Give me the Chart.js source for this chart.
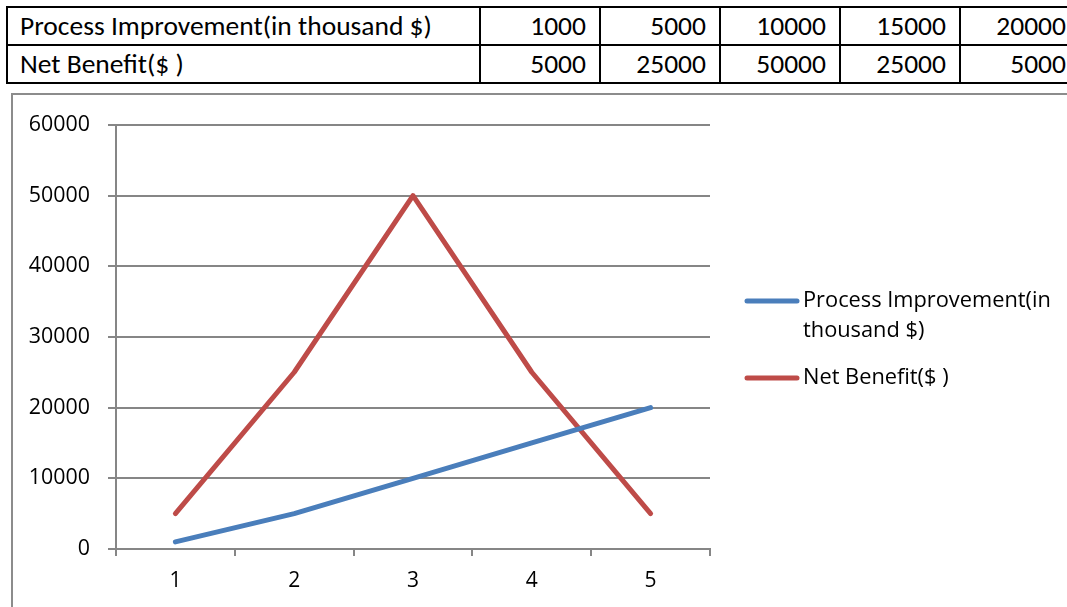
<!DOCTYPE html>
<html>
<head>
<meta charset="utf-8">
<script src="https://cdn.jsdelivr.net/npm/chart.js@4/dist/chart.umd.min.js"></script>
<style>
  html, body { margin: 0; padding: 0; width: 1067px; height: 607px; overflow: hidden; background: #fff; }
  #tbl { position: absolute; left: 6px; top: 6px; width: 1073px; border-collapse: collapse; table-layout: fixed;
         font-family: Carlito, "Liberation Sans Narrow", "Open Sans", sans-serif; font-size: 27.5px; color: #000; }
  #tbl td { border: 2px solid #000; height: 36px; padding: 0 13px 0 12px; text-align: right; white-space: nowrap; line-height: 36px; overflow: hidden; }
  #tbl td.h { text-align: left; }
  #box { position: absolute; left: 11px; top: 93px; width: 1100px; height: 600px; border: 2px solid #8c8c8c; border-right: none; border-bottom: none; }
  #wrap { position: absolute; left: 12px; top: 94px; width: 1055px; height: 513px; }
</style>
</head>
<body>
<table id="tbl"><colgroup><col style="width:473px"><col style="width:120px"><col style="width:120px"><col style="width:120px"><col style="width:120px"><col style="width:120px"></colgroup><tbody id="tb"></tbody></table>
<div id="box"></div>
<div id="wrap"><canvas id="c" width="1055" height="513"></canvas></div>
<script>
const categories = ['1', '2', '3', '4', '5'];
const seriesNames = ['Process Improvement(in thousand $)', 'Net Benefit($ )'];
const processImprovement = [1000, 5000, 10000, 15000, 20000];
const netBenefit = [5000, 25000, 50000, 25000, 5000];
const yTicks = [0, 10000, 20000, 30000, 40000, 50000, 60000];
const legendLines = [['Process Improvement(in', 'thousand $)'], ['Net Benefit($ )']];

// build table
const tb = document.getElementById('tb');
[[seriesNames[0], processImprovement], [seriesNames[1], netBenefit]].forEach(([name, vals]) => {
  const tr = document.createElement('tr');
  const th = document.createElement('td'); th.className = 'h'; th.textContent = name; tr.appendChild(th);
  vals.forEach(v => { const td = document.createElement('td'); td.textContent = v; tr.appendChild(td); });
  tb.appendChild(tr);
});

const BLUE = '#4a7ebb', RED = '#be4b48', GRID = '#868686';
const FONT = "'Open Sans', sans-serif";

const legendPlugin = {
  id: 'sideLegend',
  afterDraw(chart) {
    const ctx = chart.ctx;
    const x0 = chart.chartArea.right + 37;
    const lineLen = 50;
    const lh = 30;
    let y = 207;
    ctx.save();
    ctx.font = "21.8px " + FONT;
    ctx.textBaseline = 'middle';
    ctx.textAlign = 'left';
    chart.data.datasets.forEach((ds, i) => {
      ctx.strokeStyle = ds.borderColor;
      ctx.lineWidth = 5;
      ctx.lineCap = 'round';
      ctx.beginPath(); ctx.moveTo(x0, y); ctx.lineTo(x0 + lineLen, y); ctx.stroke();
      ctx.fillStyle = '#000';
      legendLines[i].forEach((t, k) => ctx.fillText(t, x0 + lineLen + 6, y + k * lh));
      y += legendLines[i].length * lh + 17;
    });
    ctx.restore();
  }
};

new Chart(document.getElementById('c'), {
  type: 'line',
  data: {
    labels: categories,
    datasets: [
      { label: seriesNames[0], data: processImprovement, borderColor: BLUE, backgroundColor: BLUE, borderWidth: 5, pointRadius: 0, borderCapStyle: 'round', borderJoinStyle: 'round', tension: 0 },
      { label: seriesNames[1], data: netBenefit, borderColor: RED, backgroundColor: RED, borderWidth: 5, pointRadius: 0, borderCapStyle: 'round', borderJoinStyle: 'round', tension: 0 }
    ]
  },
  options: {
    responsive: false,
    animation: false,
    devicePixelRatio: 1,
    layout: { padding: { top: 28, right: 357, left: 0, bottom: 0 } },
    plugins: { legend: { display: false }, tooltip: { enabled: false } },
    scales: {
      x: {
        offset: true,
        afterFit(s) { s.height = 58; },
        grid: { offset: true, drawOnChartArea: false, drawTicks: true, tickLength: 7, color: GRID, lineWidth: 2 },
        border: { display: true, color: GRID, width: 2 },
        ticks: { color: '#000', font: { family: FONT, size: 21 }, padding: 12, maxRotation: 0 }
      },
      y: {
        min: 0, max: 60000,
        afterFit(s) { s.width = 104; },
        afterBuildTicks(s) { s.ticks = yTicks.map(v => ({ value: v })); },
        grid: { color: GRID, lineWidth: 2, tickLength: 8, drawTicks: true },
        border: { display: true, color: GRID, width: 2 },
        ticks: { color: '#000', font: { family: FONT, size: 21.4 }, padding: 18, callback: v => String(v) }
      }
    }
  },
  plugins: [legendPlugin]
});
</script>
</body>
</html>
